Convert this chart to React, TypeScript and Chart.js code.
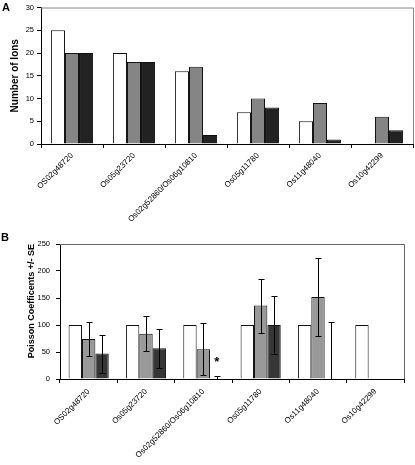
import React, { useEffect, useRef } from "react";
import { Chart, registerables } from "chart.js";

Chart.register(...registerables);

const categories = [
  "OS02g48720",
  "Os05g23720",
  "Os02g52860/Os06g10810",
  "Os05g11780",
  "Os11g48040",
  "Os10g42299",
];

// Panel A: number of ions
const ionsWhite = [25, 20, 16, 7, 5, 0];
const ionsGray = [20, 18, 17, 10, 9, 6];
const ionsBlack = [20, 18, 2, 8, 1, 3];

// Panel B: Poisson coefficients +/- SE
const poissonWhite = [100, 100, 100, 100, 100, 100];
const poissonGray = [74, 84, 55, 136, 152, null];
const poissonGrayErr = [32, 33, 48, 50, 73, null];
const poissonBlack = [47, 57, 0, 100, 0, null];
const poissonBlackErr = [35, 36, 5, 54, 106, null];
const significantCategory = 2;

const FONT = "'Liberation Sans', Arial, sans-serif";

function boxPlugin(color: string) {
  return {
    id: "box",
    afterDraw(chart: any) {
      const { ctx, chartArea } = chart;
      ctx.save();
      ctx.strokeStyle = color;
      ctx.lineWidth = 1;
      ctx.beginPath();
      ctx.moveTo(chartArea.left, chartArea.top + 0.5);
      ctx.lineTo(chartArea.right + 0.5, chartArea.top + 0.5);
      ctx.lineTo(chartArea.right + 0.5, chartArea.bottom);
      ctx.stroke();
      ctx.restore();
    },
  };
}

function letterPlugin(letter: string, x: number, y: number) {
  return {
    id: "letter",
    afterDraw(chart: any) {
      const { ctx } = chart;
      ctx.save();
      ctx.fillStyle = "#000";
      ctx.font = `bold 11px ${FONT}`;
      ctx.textBaseline = "top";
      ctx.textAlign = "left";
      ctx.fillText(letter, x, y);
      ctx.restore();
    },
  };
}

const errorBarPlugin = {
  id: "errbars",
  afterDatasetsDraw(chart: any) {
    const { ctx, chartArea } = chart;
    const yScale = chart.scales.y;
    ctx.save();
    ctx.strokeStyle = "#000";
    ctx.lineWidth = 1;
    chart.data.datasets.forEach((ds: any, di: number) => {
      const errs = ds.errors as (number | null)[] | undefined;
      if (!errs) return;
      const meta = chart.getDatasetMeta(di);
      meta.data.forEach((bar: any, i: number) => {
        const v = ds.data[i];
        const e = errs[i];
        if (v == null || e == null) return;
        const x = Math.round(bar.x) + 0.5;
        const yTop = Math.round(yScale.getPixelForValue(v + e)) + 0.5;
        const yBotRaw = yScale.getPixelForValue(v - e);
        const yBot = Math.round(Math.min(yBotRaw, chartArea.bottom)) + 0.5;
        ctx.beginPath();
        ctx.moveTo(x, yTop);
        ctx.lineTo(x, yBot);
        ctx.moveTo(x - 3, yTop);
        ctx.lineTo(x + 3, yTop);
        if (yBotRaw < chartArea.bottom) {
          ctx.moveTo(x - 3, yBot);
          ctx.lineTo(x + 3, yBot);
        }
        ctx.stroke();
      });
    });
    // significance star above the black bar of the marked category
    const meta = chart.getDatasetMeta(2);
    const bar = meta.data[significantCategory];
    if (bar) {
      ctx.fillStyle = "#000";
      ctx.font = `bold 13px ${FONT}`;
      ctx.textAlign = "center";
      ctx.textBaseline = "middle";
      const v = (poissonBlack[significantCategory] || 0) + (poissonBlackErr[significantCategory] || 0);
      ctx.fillText("*", bar.x, yScale.getPixelForValue(v) - 14);
    }
    ctx.restore();
  },
};

function makeBarDataset(label: string, data: (number | null)[], color: string, errors?: (number | null)[]) {
  return {
    label,
    data,
    backgroundColor: color,
    borderColor: "#111",
    borderWidth: 1,
    borderSkipped: "bottom",
    categoryPercentage: 0.68,
    barPercentage: 1.0,
    errors,
  } as any;
}

export default function App() {
  const refA = useRef<HTMLCanvasElement | null>(null);
  const refB = useRef<HTMLCanvasElement | null>(null);

  useEffect(() => {
    const chartA = new Chart(refA.current as HTMLCanvasElement, {
      type: "bar",
      data: {
        labels: categories,
        datasets: [
          makeBarDataset("white", ionsWhite, "#ffffff"),
          makeBarDataset("gray", ionsGray, "#858585"),
          makeBarDataset("black", ionsBlack, "#222222"),
        ],
      },
      options: {
        animation: false,
        responsive: false,
        layout: { padding: { left: 0, right: 2, top: 4, bottom: 0 } },
        plugins: { legend: { display: false }, tooltip: { enabled: false } },
        scales: {
          x: {
            afterFit: (s: any) => { s.height = 96; },
            grid: { display: true, drawOnChartArea: false, drawTicks: true, tickLength: 4, color: "#000", offset: true },
            border: { display: true, color: "#000" },
            ticks: { color: "#000", font: { family: FONT, size: 8 }, minRotation: 45, maxRotation: 45, padding: 3, autoSkip: false },
          },
          y: {
            min: 0,
            max: 30,
            afterFit: (s: any) => { s.width = 41; },
            grid: { display: true, drawOnChartArea: false, drawTicks: true, tickLength: 4, color: "#000" },
            border: { display: true, color: "#000" },
            ticks: { stepSize: 5, color: "#000", font: { family: FONT, size: 7.5 }, padding: 3 },
            title: { display: true, text: "Number of Ions", color: "#000", font: { family: FONT, size: 10, weight: "bold" }, padding: { top: 9, bottom: 0 } },
          },
        },
      } as any,
      plugins: [boxPlugin("#888"), letterPlugin("A", 2, 2)],
    });

    const datasetsB = [
      makeBarDataset("white", poissonWhite, "#ffffff"),
      makeBarDataset("gray", poissonGray, "#999999", poissonGrayErr),
      makeBarDataset("black", poissonBlack, "#363636", poissonBlackErr),
    ];
    datasetsB.forEach((d: any) => { d.categoryPercentage = 0.7; });

    const chartB = new Chart(refB.current as HTMLCanvasElement, {
      type: "bar",
      data: { labels: categories, datasets: datasetsB },
      options: {
        animation: false,
        responsive: false,
        layout: { padding: { left: 0, right: 11, top: 19, bottom: 0 } },
        plugins: { legend: { display: false }, tooltip: { enabled: false } },
        scales: {
          x: {
            afterFit: (s: any) => { s.height = 86; },
            grid: { display: true, drawOnChartArea: false, drawTicks: true, tickLength: 4, color: "#000", offset: true },
            border: { display: true, color: "#000" },
            ticks: { color: "#000", font: { family: FONT, size: 8 }, minRotation: 45, maxRotation: 45, padding: 4, autoSkip: false },
          },
          y: {
            min: 0,
            max: 250,
            afterFit: (s: any) => { s.width = 60; },
            grid: { display: true, drawOnChartArea: false, drawTicks: true, tickLength: 4, color: "#000" },
            border: { display: true, color: "#000" },
            ticks: { stepSize: 50, color: "#000", font: { family: FONT, size: 7.5 }, padding: 6 },
            title: { display: true, text: "Poisson Coefficents +/- SE", align: "end", color: "#000", font: { family: FONT, size: 9, weight: "bold" }, padding: { top: 26, bottom: 0 } },
          },
        },
      } as any,
      plugins: [boxPlugin("#666"), letterPlugin("B", 1, 7), errorBarPlugin],
    });

    return () => {
      chartA.destroy();
      chartB.destroy();
    };
  }, []);

  return (
    <div style={{ position: "absolute", left: 0, top: 0, width: 415, height: 465, background: "#fff", overflow: "hidden" }}>
      <canvas ref={refA} width={415} height={240} style={{ position: "absolute", left: 0, top: 0, width: 415, height: 240 }} />
      <canvas ref={refB} width={415} height={240} style={{ position: "absolute", left: 0, top: 225, width: 415, height: 240 }} />
    </div>
  );
}
